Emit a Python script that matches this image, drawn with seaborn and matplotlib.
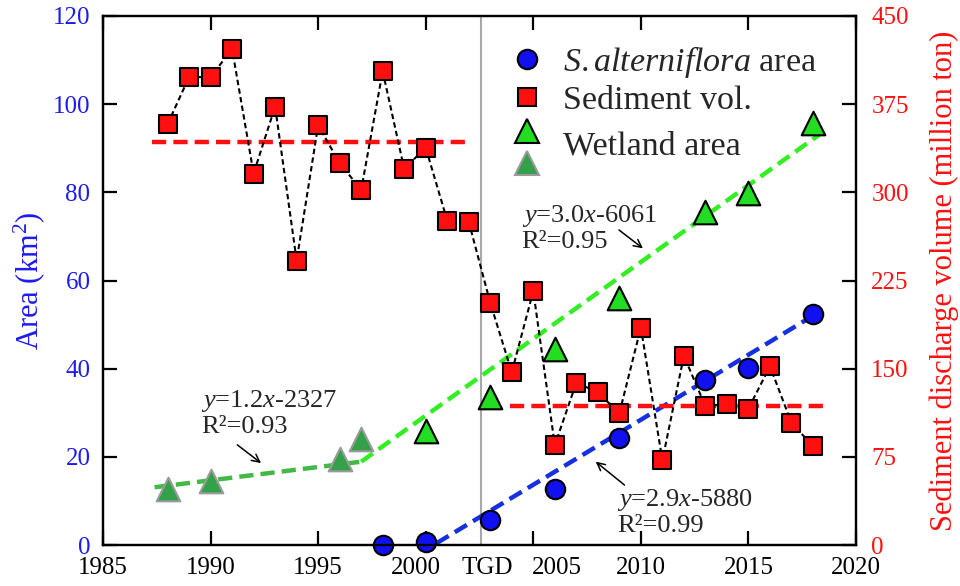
import numpy as np
import pandas as pd
import seaborn as sns
import matplotlib
matplotlib.use("Agg")
import matplotlib.pyplot as plt
from matplotlib.lines import Line2D
from matplotlib.legend_handler import HandlerBase
from matplotlib.transforms import ScaledTranslation

# ---------------- data ----------------
sed_years = list(range(1988, 2019))
sed_vol = [358, 398, 398, 422, 316, 373, 242, 357, 325, 302, 403, 320, 338, 276, 275,
           206, 147, 216, 85, 138, 130, 112, 185, 72, 161, 118, 120, 116, 152, 104, 84]

sa_years = [1998, 2000, 2003, 2006, 2009, 2013, 2015, 2018]
sa_area = [0.0, 0.6, 5.7, 12.7, 24.2, 37.4, 40.1, 52.3]

wet_years_post = [2000, 2003, 2006, 2009, 2013, 2015, 2018]
wet_area_post = [25.9, 33.6, 44.4, 56.0, 75.6, 79.8, 95.7]

wet_years_pre = [1988, 1990, 1996, 1997]
wet_area_pre = [12.6, 14.5, 19.5, 24.0]

# fitted / mean lines
fit_wet_pre_x = [1987.4, 1997.0]
fit_wet_pre_y = [13.1, 18.9]
fit_wet_post_x = [1997.0, 2018.5]
fit_wet_post_y = [18.9, 93.8]
fit_sa_x = [2000.5, 2018.0]
fit_sa_y = [0.4, 52.0]
sed_mean_pre_x = [1987.3, 2001.9]
sed_mean_pre_y = [343, 343]
sed_mean_post_x = [2003.9, 2018.6]
sed_mean_post_y = [118.5, 118.5]

tgd_year = 2002.55
x_ticks = [1985, 1990, 1995, 2000, 2002.85, 2005, 2010, 2015, 2020]
x_tick_labels = ["1985", "1990", "1995", "2000", "TGD", "2005", "2010", "2015", "2020"]
left_ticks = [0, 20, 40, 60, 80, 100, 120]
right_ticks = [0, 75, 150, 225, 300, 375, 450]

# ---------------- style ----------------
sns.set_theme(style="ticks")
plt.rcParams["font.family"] = ["Liberation Serif", "DejaVu Serif"]
plt.rcParams["mathtext.fontset"] = "custom"
plt.rcParams["mathtext.rm"] = "Liberation Serif"
plt.rcParams["mathtext.it"] = "Liberation Serif:italic"
plt.rcParams["mathtext.bf"] = "Liberation Serif:bold"

BLUE = "#1010f0"
BLUE_TXT = "#1c1cf0"
RED = "#ff1010"
GREEN = "#22dd22"
GREEN_LINE = "#33ee22"
DGREEN = "#33a04a"
DGREEN_LINE = "#44b844"
GRAY = "#9a9a9a"

fig = plt.figure(figsize=(9.6, 5.86), dpi=100)
ax = fig.add_axes([103 / 960, 1 - 545 / 586, (856 - 103) / 960, (545 - 16) / 586])
ax2 = ax.twinx()

# TGD line
ax.axvline(tgd_year, color="#a8a8a8", lw=1.5, zorder=0)

# fit lines (left axis)
sns.lineplot(x=fit_wet_pre_x, y=fit_wet_pre_y, ax=ax, color=DGREEN_LINE, lw=3.2,
             linestyle=(0, (3.2, 1.6)), zorder=1)
sns.lineplot(x=fit_wet_post_x, y=fit_wet_post_y, ax=ax, color=GREEN_LINE, lw=3.2,
             linestyle=(0, (3.2, 1.6)), zorder=1)
sns.lineplot(x=fit_sa_x, y=fit_sa_y, ax=ax, color="#1530e0", lw=3.2,
             linestyle=(0, (3.2, 1.6)), zorder=1)

# markers (left axis)
sns.scatterplot(x=wet_years_pre, y=wet_area_pre, ax=ax, marker="^", s=17 ** 2,
                color=DGREEN, edgecolor=GRAY, linewidth=1.5, zorder=3)
sns.scatterplot(x=wet_years_post, y=wet_area_post, ax=ax, marker="^", s=17 ** 2,
                color=GREEN, edgecolor="black", linewidth=1.5, zorder=3)
sns.scatterplot(x=sa_years, y=sa_area, ax=ax, marker="o", s=14 ** 2,
                color=BLUE, edgecolor="black", linewidth=1.5, zorder=4, clip_on=False)

# sediment (right axis)
sns.lineplot(x=sed_mean_pre_x, y=sed_mean_pre_y, ax=ax2, color=RED, lw=3.2,
             linestyle=(0, (3.2, 1.6)), zorder=1)
sns.lineplot(x=sed_mean_post_x, y=sed_mean_post_y, ax=ax2, color=RED, lw=3.2,
             linestyle=(0, (3.2, 1.6)), zorder=1)
sns.lineplot(x=sed_years, y=sed_vol, ax=ax2, color="black", lw=1.5,
             linestyle=(0, (2.6, 1.6)), zorder=2)
sns.scatterplot(x=sed_years, y=sed_vol, ax=ax2, marker="s", s=12.5 ** 2,
                color=RED, edgecolor="black", linewidth=1.5, zorder=3)

# ---------------- axes ----------------
ax.set_xlim(1985, 2020)
ax.set_ylim(0, 120)
ax2.set_ylim(0, 450)
ax.set_xticks(x_ticks)
ax.set_xticklabels(x_tick_labels)
ax.set_yticks(left_ticks)
ax2.set_yticks(right_ticks)
ax.set_xlabel("")

for a in (ax, ax2):
    for s in a.spines.values():
        s.set_linewidth(1.6)
        s.set_color("black")
        s.set_visible(True)

ax.tick_params(axis="x", direction="in", top=True, length=10, width=1.6,
               labelsize=18, pad=9, colors="black")
ax.tick_params(axis="y", direction="in", length=10, width=1.6, labelsize=18,
               pad=9, labelcolor=BLUE_TXT, color="black")
ax2.tick_params(axis="y", direction="in", length=10, width=1.6, labelsize=18,
                pad=11, labelcolor=RED, color="black")

ticks = ax.xaxis.get_major_ticks()
ticks[4].tick1line.set_visible(False)
ticks[4].tick2line.set_visible(False)
# shift labels adjacent to TGD
for idx, dx in ((3, -0.10), (5, 0.235)):
    lab = ticks[idx].label1
    lab.set_transform(lab.get_transform() + ScaledTranslation(dx, 0, fig.dpi_scale_trans))

ax.set_ylabel("Area (km$^2$)", color=BLUE_TXT, fontsize=22, labelpad=4)
ax2.set_ylabel("Sediment discharge volume (million ton)", color=RED, fontsize=22,
               labelpad=15)

# ---------------- annotations ----------------
ann_font = 19
arrow_kw = dict(arrowstyle="->", color="black", lw=1.1, mutation_scale=14)
ax.text(1989.57, 29.9, "$y$=1.2$x$-2327\nR²=0.93", fontsize=ann_font,
        ha="left", va="center", linespacing=1.1, zorder=6)
ax.annotate("", xy=(1992.45, 18.2), xytext=(1991.14, 23.1), arrowprops=arrow_kw)

ax.text(2004.46, 71.9, "$y$=3.0$x$-6061\nR²=0.95", fontsize=ann_font,
        ha="left", va="center", linespacing=1.1, zorder=6)
ax.annotate("", xy=(2010.2, 66.9), xytext=(2008.88, 71.85), arrowprops=arrow_kw)

ax.text(2008.88, 7.5, "$y$=2.9$x$-5880\nR²=0.99", fontsize=ann_font,
        ha="left", va="center", linespacing=1.1, zorder=6)
ax.annotate("", xy=(2007.8, 19.3), xytext=(2009.34, 13.2), arrowprops=arrow_kw)


# ---------------- legend ----------------
class HandlerStack(HandlerBase):
    def __init__(self, offsets, **kw):
        super().__init__(**kw)
        self.offsets = offsets

    def create_artists(self, legend, orig_handle, xdescent, ydescent, width,
                       height, fontsize, trans):
        arts = []
        xc = width / 2 - xdescent
        yc = height / 2 - ydescent
        for h, off in zip(orig_handle, self.offsets):
            l = Line2D([xc], [yc + off], linestyle="none", marker=h.get_marker(),
                       markersize=h.get_markersize(),
                       markerfacecolor=h.get_markerfacecolor(),
                       markeredgecolor=h.get_markeredgecolor(),
                       markeredgewidth=h.get_markeredgewidth())
            l.set_transform(trans)
            arts.append(l)
        return arts


h_sa = Line2D([], [], linestyle="none", marker="o", markersize=14,
              markerfacecolor=BLUE, markeredgecolor="black", markeredgewidth=1.5)
h_sed = Line2D([], [], linestyle="none", marker="s", markersize=12.5,
               markerfacecolor=RED, markeredgecolor="black", markeredgewidth=1.5)
h_w1 = Line2D([], [], linestyle="none", marker="^", markersize=17,
              markerfacecolor=GREEN, markeredgecolor="black", markeredgewidth=1.5)
h_w2 = Line2D([], [], linestyle="none", marker="^", markersize=17,
              markerfacecolor=DGREEN, markeredgecolor=GRAY, markeredgewidth=1.5)

leg = ax2.legend([h_sa, h_sed, (h_w1, h_w2)],
                 ["$\\it{S.alterniflora}$ area", "Sediment vol.", "Wetland area"],
                 handler_map={tuple: HandlerStack([1.4, -21.6])},
                 loc="upper left", bbox_to_anchor=(0.540, 0.947),
                 frameon=False, fontsize=24.5, handlelength=1.0,
                 handletextpad=0.57, borderpad=0, borderaxespad=0,
                 labelspacing=0.15)
t3 = leg.get_texts()[2]
t3.set_transform(t3.get_transform() + ScaledTranslation(0, -0.10, fig.dpi_scale_trans))

fig.savefig("out.png", dpi=100)
